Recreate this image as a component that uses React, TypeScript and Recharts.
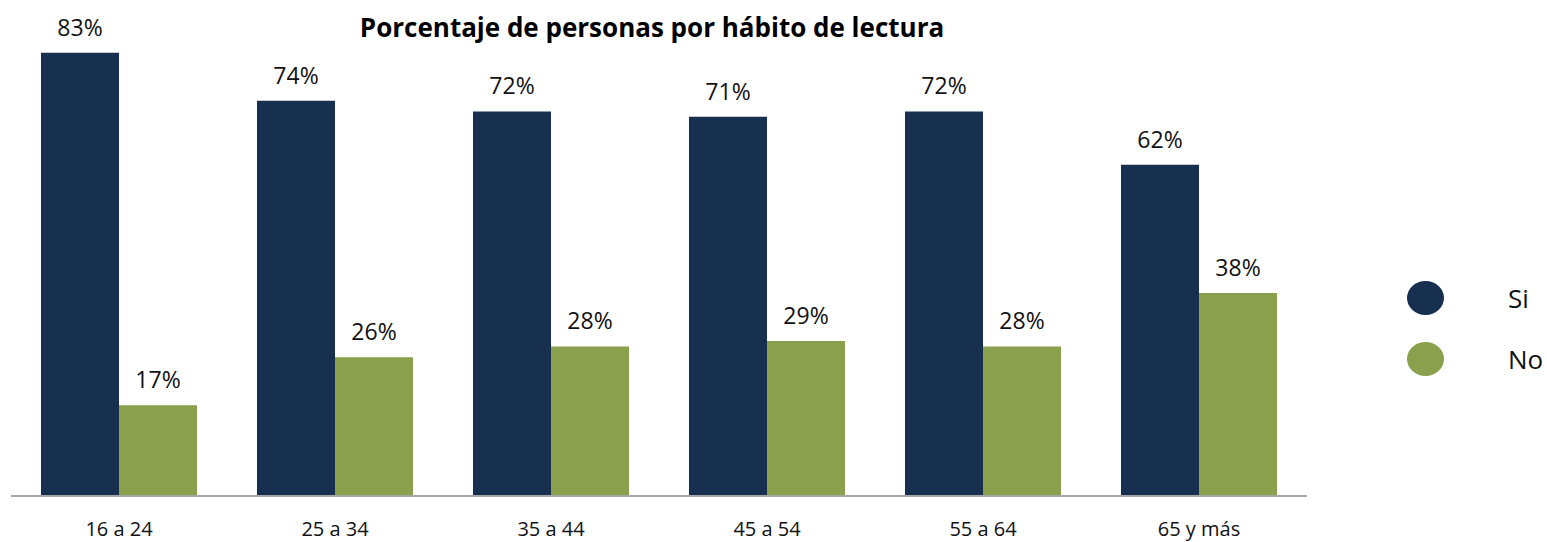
import { BarChart, Bar, XAxis, YAxis, LabelList } from "recharts";

const categories = ["16 a 24", "25 a 34", "35 a 44", "45 a 54", "55 a 64", "65 y más"];
const si = [83, 74, 72, 71, 72, 62];
const no = [17, 26, 28, 29, 28, 38];

const data = categories.map((group, i) => ({ group, si: si[i], no: no[i] }));

const FONT = "'Open Sans', Lato, sans-serif";
const DARK = "#17304f";
const GREEN = "#8aa04d";

const legendItems = [
  { name: "Si", color: DARK },
  { name: "No", color: GREEN },
];

function ChartLegend() {
  return (
    <div style={{ position: "absolute", left: 1407, top: 267, fontFamily: FONT }}>
      {legendItems.map((item) => (
        <div
          key={item.name}
          style={{ display: "flex", alignItems: "center", height: 61 }}
        >
          <div
            style={{
              width: 37,
              height: 34,
              borderRadius: "50%",
              background: item.color,
              marginRight: 64,
            }}
          />
          <span style={{ fontSize: 26, color: "#111" }}>{item.name}</span>
        </div>
      ))}
    </div>
  );
}

export default function App() {
  return (
    <div style={{ position: "relative", width: 1547, height: 542, background: "#fff" }}>
      <style>{`body{margin:0}`}</style>
      <div
        style={{
          position: "absolute",
          left: 0,
          width: 1304,
          top: 9,
          textAlign: "center",
          fontFamily: FONT,
          fontWeight: 700,
          fontSize: 26,
          color: "#000",
          zIndex: 2,
        }}
      >
        Porcentaje de personas por hábito de lectura
      </div>
      <BarChart
        width={1547}
        height={542}
        data={data}
        margin={{ top: 18, right: 240, bottom: 0, left: 11 }}
        barCategoryGap={30}
        barGap={0}
      >
        <XAxis
          dataKey="group"
          height={46}
          tickLine={false}
          tickSize={0}
          tickMargin={26}
          axisLine={{ stroke: "#a6a6a6", strokeWidth: 2 }}
          tick={{ fill: "#111", fontSize: 20, fontFamily: FONT }}
          interval={0}
        />
        <YAxis hide domain={[0, 89.5]} width={0} />
        <Bar dataKey="si" fill={DARK} isAnimationActive={false}>
          <LabelList
            dataKey="si"
            position="top"
            offset={17}
            formatter={(v: number) => `${v}%`}
            style={{ fill: "#111", fontSize: 23, fontFamily: FONT }}
          />
        </Bar>
        <Bar dataKey="no" fill={GREEN} isAnimationActive={false}>
          <LabelList
            dataKey="no"
            position="top"
            offset={17}
            formatter={(v: number) => `${v}%`}
            style={{ fill: "#111", fontSize: 23, fontFamily: FONT }}
          />
        </Bar>
      </BarChart>
      <ChartLegend />
    </div>
  );
}
